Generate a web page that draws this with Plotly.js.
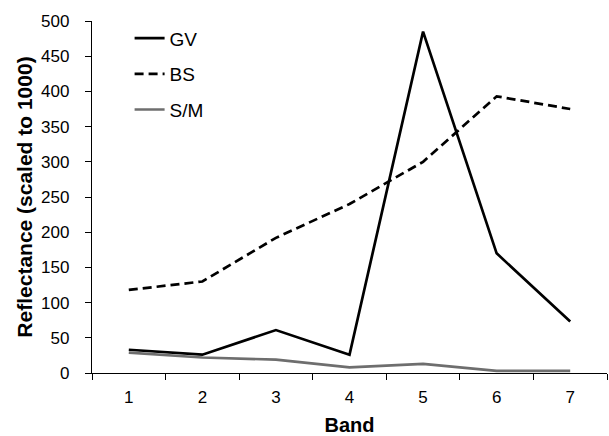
<!DOCTYPE html>
<html>
<head>
<meta charset="utf-8">
<script src="https://cdn.plot.ly/plotly-3.0.1.min.js"></script>
<style>html,body{margin:0;padding:0;background:#fff}#chart{width:609px;height:436px}</style>
</head>
<body>
<div id="chart"></div>
<script>
const bands = ['1','2','3','4','5','6','7'];
const gv = [33, 26, 61, 26, 485, 170, 73];
const bs = [118, 130, 192, 240, 300, 393, 375];
const sm = [29, 22, 19, 8, 13, 3, 3];

const traces = [
  {x: bands, y: gv, name: 'GV', legendgroup: 'a', mode: 'lines', line: {color: '#000', width: 2.7}},
  {x: bands, y: bs, name: 'BS', legendgroup: 'b', mode: 'lines', line: {color: '#000', width: 2.7, dash: '9px,5px'}},
  {x: bands, y: sm, name: 'S/M', legendgroup: 'c', mode: 'lines', line: {color: '#6e6e6e', width: 2.7}}
];

const layout = {
  width: 609, height: 436,
  margin: {l: 92, r: 2, t: 21, b: 63},
  paper_bgcolor: '#fff', plot_bgcolor: '#fff',
  font: {family: 'Liberation Sans, Arial, sans-serif', color: '#000', size: 17},
  showlegend: true,
  legend: {x: 0.073, y: 1.005, xanchor: 'left', yanchor: 'top', bgcolor: 'rgba(0,0,0,0)',
           font: {size: 19}, tracegroupgap: 8, itemwidth: 30},
  xaxis: {
    type: 'category', range: [-0.5, 6.5], tickson: 'boundaries', ticks: 'outside', ticklen: 6, tickcolor: '#000',
    showline: true, linecolor: '#000', linewidth: 1.3, showgrid: false, zeroline: false,
    tickfont: {size: 17}, ticklabelstandoff: 8,
    title: {text: 'Band', font: {size: 20, weight: 'bold'}, standoff: 15}
  },
  yaxis: {
    range: [0, 500], dtick: 50, ticks: 'outside', ticklen: 6, tickcolor: '#000',
    showline: true, linecolor: '#000', linewidth: 1.3, showgrid: false, zeroline: false,
    tickfont: {size: 17}, ticklabelstandoff: 12,
    title: {text: 'Reflectance (scaled to 1000)', font: {size: 21, weight: 'bold'}, standoff: 2}
  }
};

Plotly.newPlot('chart', traces, layout, {displayModeBar: false});
</script>
</body>
</html>
